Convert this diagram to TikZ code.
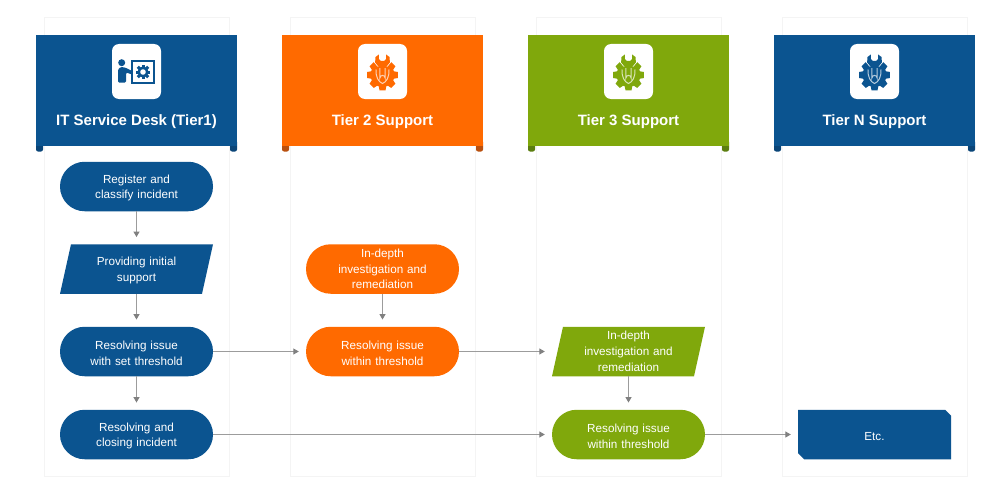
\documentclass[tikz,border=0pt]{standalone}
\usepackage{fontspec}
\setmainfont{Liberation Sans}
\usetikzlibrary{arrows.meta}
\definecolor{cblue}{HTML}{0B5490}
\definecolor{dblue}{HTML}{0A4578}
\definecolor{corange}{HTML}{FF6A00}
\definecolor{dorange}{HTML}{B9500F}
\definecolor{cgreen}{HTML}{80A80C}
\definecolor{dgreen}{HTML}{5C7E10}
\definecolor{panelline}{HTML}{F4F4F4}
\definecolor{flowgray}{HTML}{9C9C9C}
\definecolor{tipgray}{HTML}{808080}
\tikzset{
  x=1pt,y=-1pt,
  panel/.style={draw=panelline,line width=1pt,fill=white},
  stepbase/.style={text=white,align=center,font=\fontsize{11.7}{15.8}\selectfont,inner sep=0pt,minimum width=153pt,minimum height=49.5pt,text width=125pt},
  lowtext/.style={execute at begin node={\rule{0pt}{11.5pt}}},
  term/.style={stepbase,pillshape,fill=#1},
  pillshape/.style={rounded corners=24.7pt},
  para/.style={stepbase,path picture={
     \fill[#1] ([xshift=11pt]path picture bounding box.north west) -- (path picture bounding box.north east)
       -- ([xshift=-11pt]path picture bounding box.south east) -- (path picture bounding box.south west) -- cycle;}},
  snip/.style={stepbase,path picture={
     \fill[#1] (path picture bounding box.north west) -- ([xshift=-6pt]path picture bounding box.north east)
       -- ([yshift=-6pt]path picture bounding box.north east) -- (path picture bounding box.south east)
       -- ([xshift=6pt]path picture bounding box.south west) -- ([yshift=6pt]path picture bounding box.south west) -- cycle;}},
  flow/.style={draw=flowgray,line width=1.1pt,-{Triangle[length=5.5pt,width=6pt,color=tipgray]},shorten >=7pt},
  headtitle/.style={text=white,font=\fontsize{15}{17}\selectfont\bfseries,inner sep=0pt},
  iconbox/.style={fill=white,rounded corners=7pt},
}
\newcommand{\tierhead}[4]{% left x, main colour, dark colour, title
  \fill[#3,rounded corners=2pt] (#1,140) rectangle ++(7,11.5);
  \fill[#3,rounded corners=2pt] (#1+194,140) rectangle ++(7,11.5);
  \fill[#2] (#1,35) rectangle (#1+201,146);
  \fill[iconbox] (#1+76,44) rectangle (#1+125,99);
  \node[headtitle] (t#1) at (#1+100.5,121.5) {#4};
}
\newcommand{\geartool}[2]{% centre x, colour
  \begin{scope}[shift={(#1,75)}]
    \foreach \a in {0,45,...,315}{
      \fill[#2,rotate=\a] (-3,-15.3) -- (3,-15.3) -- (4.2,-9) -- (-4.2,-9) -- cycle;
    }
    \fill[#2] (0,0) circle (12);
    % white halo of the wrench head over the gear
    \fill[white] (-8.8,-21) -- (8.8,-21) -- (8.8,-13) -- (5,-8.5) -- (-5,-8.5) -- (-8.8,-13) -- cycle;
    % wrench head
    \fill[#2] (-3.2,-7.5) -- (-7.4,-12.5) -- (-7,-18) -- (-3.6,-20.5) -- (-3.6,-16) -- (-1.8,-14.2) -- (1.8,-14.2) -- (3.6,-16) -- (3.6,-20.5) -- (7,-18) -- (7.4,-12.5) -- (3.2,-7.5) -- cycle;
    % lighter U-shaped lines
    \draw[white,line width=1pt,opacity=.7] (-2.6,-7) -- (-2.6,3) arc (180:360:2.6) -- (2.6,-7);
    \draw[white,line width=1pt,opacity=.7] (-6.4,-5.5) .. controls (-7,2) and (-4,7) .. (0,8.5) .. controls (4,7) and (7,2) .. (6.4,-5.5);
  \end{scope}
}
\begin{document}
\begin{tikzpicture}
\useasboundingbox (0,0) rectangle (1000,503);
\fill[white] (0,0) rectangle (1000,503);
% panels
\foreach \px in {44,290,536,782}{
  \draw[panel] (\px,18) rectangle (\px+185,476);
}
% headers
\tierhead{36}{cblue}{dblue}{IT Service Desk (Tier1)}
\tierhead{282}{corange}{dorange}{Tier 2 Support}
\tierhead{528}{cgreen}{dgreen}{Tier 3 Support}
\tierhead{774}{cblue}{dblue}{Tier N Support}
% icons
\geartool{382.5}{corange}
\geartool{628.5}{cgreen}
\geartool{874.5}{cblue}
% desk icon
\begin{scope}[shift={(136.5,71.5)}]
  \fill[cblue] (-14.8,-8.8) circle (3.5);
  \fill[cblue,rounded corners=1.2pt] (-18.5,11) -- (-18.5,-2) -- (-16,-4.5) -- (-11.5,-4) -- (-3.5,0) -- (-4.5,3) -- (-10.5,1) -- (-10.5,11) -- cycle;
  \draw[cblue,line width=1.5pt] (-4.5,-10.5) rectangle (17.5,11.5);
  \foreach \a in {0,45,...,315}{
    \fill[cblue,shift={(6.5,0.5)},rotate=\a] (-1.5,-7.4) rectangle (1.5,-4);
  }
  \fill[cblue] (6.5,0.5) circle (5.6);
  \fill[white] (6.5,0.5) circle (2.8);
\end{scope}
% column 1
\node[term=cblue,lowtext] (register) at (136.5,186.5) {Register and\\classify incident};
\node[para=cblue,lowtext] (initial) at (136.5,269) {Providing initial\\support};
\node[term=cblue,lowtext] (setthr) at (136.5,351.5) {Resolving issue\\with set threshold};
\node[term=cblue,lowtext] (closing) at (136.5,434.5) {Resolving and\\closing incident};
% column 2
\node[term=corange] (depth2) at (382.5,269) {In-depth\\investigation and\\remediation};
\node[term=corange,lowtext] (within2) at (382.5,351.5) {Resolving issue\\within threshold};
% column 3
\node[para=cgreen] (depth3) at (628.5,351.5) {In-depth\\investigation and\\remediation};
\node[term=cgreen,lowtext] (within3) at (628.5,434.5) {Resolving issue\\within threshold};
% column 4
\node[snip=cblue,lowtext] (etc) at (874.5,434.5) {Etc.};
% connectors
\draw[flow] (register) -- (initial);
\draw[flow] (initial) -- (setthr);
\draw[flow] (setthr) -- (closing);
\draw[flow] (setthr) -- (within2);
\draw[flow] (depth2) -- (within2);
\draw[flow] (within2) -- (depth3);
\draw[flow] (depth3) -- (within3);
\draw[flow] (closing) -- (within3);
\draw[flow] (within3) -- (etc);
\end{tikzpicture}
\end{document}
